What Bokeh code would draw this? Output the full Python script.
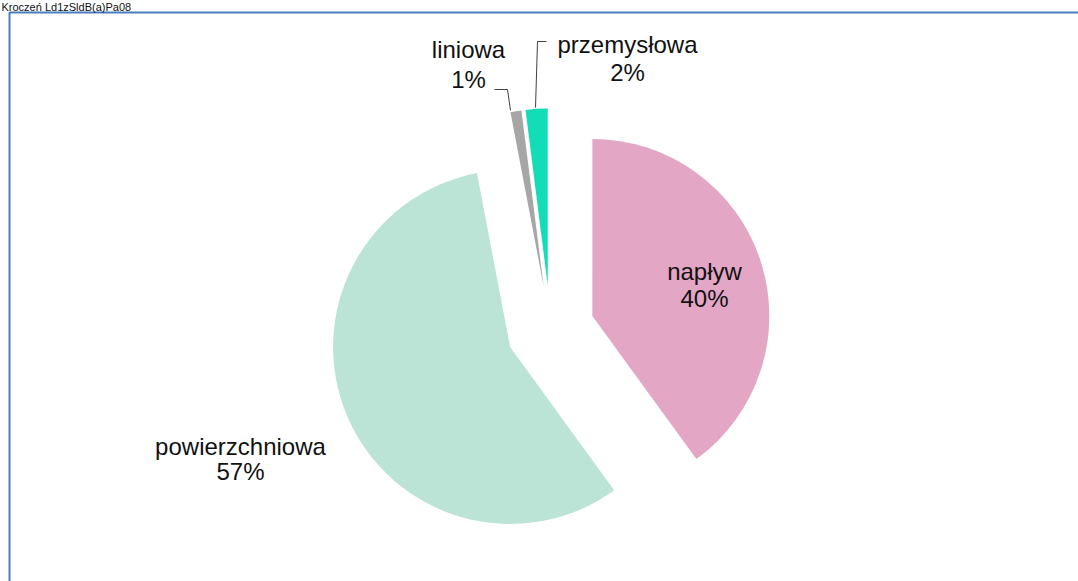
import math
from bokeh.plotting import figure
from bokeh.models import ColumnDataSource, Range1d
from bokeh.core.properties import value
from bokeh.embed import file_html
from bokeh.resources import INLINE

# ---- data ----
categories = ["napływ", "powierzchniowa", "liniowa", "przemysłowa"]
shares = [40, 57, 1, 2]
pct_labels = ["40%", "57%", "1%", "2%"]
colors = ["#E3A6C5", "#BBE3D6", "#A6A6A6", "#12DDB7"]
caption = "Kroczeń Ld1zSldB(a)Pa08"

# ---- layout (pixels, y up) ----
W, H = 1078, 581
cx, cy = 550, H - 329
R = 177
EXPLODE = 44

total = float(sum(shares))
xs, ys, starts, ends = [], [], [], []
acc = 0.0
for s in shares:
    a0 = acc / total * 360.0
    acc += s
    a1 = acc / total * 360.0
    mid = math.radians((a0 + a1) / 2.0)
    xs.append(cx + EXPLODE * math.sin(mid))
    ys.append(cy + EXPLODE * math.cos(mid))
    starts.append(math.radians(90.0 - a1))
    ends.append(math.radians(90.0 - a0))

src = ColumnDataSource(dict(x=xs, y=ys, start=starts, end=ends, color=colors, cat=categories))

p = figure(width=W, height=H, output_backend="svg", toolbar_location=None,
           x_range=Range1d(0, W), y_range=Range1d(0, H), min_border=0)
p.axis.visible = False
p.grid.visible = False
p.outline_line_color = None
p.background_fill_color = "white"
p.border_fill_color = "white"


def Y(ypage):
    return H - ypage


# chart-area border (partially cropped like the reference)
p.quad(left=[9], right=[W + 40], top=[Y(12)], bottom=[-40], fill_color=None,
       line_color="#4A7EBB", line_width=2)

p.wedge(x="x", y="y", radius=R, start_angle="start", end_angle="end",
        fill_color="color", line_color=None, source=src)

font = value("Liberation Sans")

# caption at the very top (above the border)
p.text(x=[1], y=[Y(0)], text=[caption], text_font=font, text_font_size="11px",
       text_align="left", text_baseline="top", text_color="#111111")

label_pos = {
    "napływ": (704, 271, 298),
    "powierzchniowa": (240, 446, 471),
    "liniowa": (468, 49, 79),
    "przemysłowa": (627, 44, 72),
}
lx, ly1, ly2 = [], [], []
for c in categories:
    x, a, b = label_pos[c]
    lx.append(x)
    ly1.append(Y(a))
    ly2.append(Y(b))

p.text(x=lx, y=ly1, text=categories, text_font=font, text_font_size="24px",
       text_align="center", text_baseline="middle", text_color="#111111")
p.text(x=lx, y=ly2, text=pct_labels, text_font=font, text_font_size="24px",
       text_align="center", text_baseline="middle", text_color="#111111")

# leader lines for the small slices
p.multi_line(xs=[[494, 507, 510], [546, 537, 535]],
             ys=[[Y(89), Y(89), Y(110)], [Y(41), Y(41), Y(107)]],
             line_color="#404040", line_width=1)

open("out.html", "w").write(file_html(p, INLINE))
